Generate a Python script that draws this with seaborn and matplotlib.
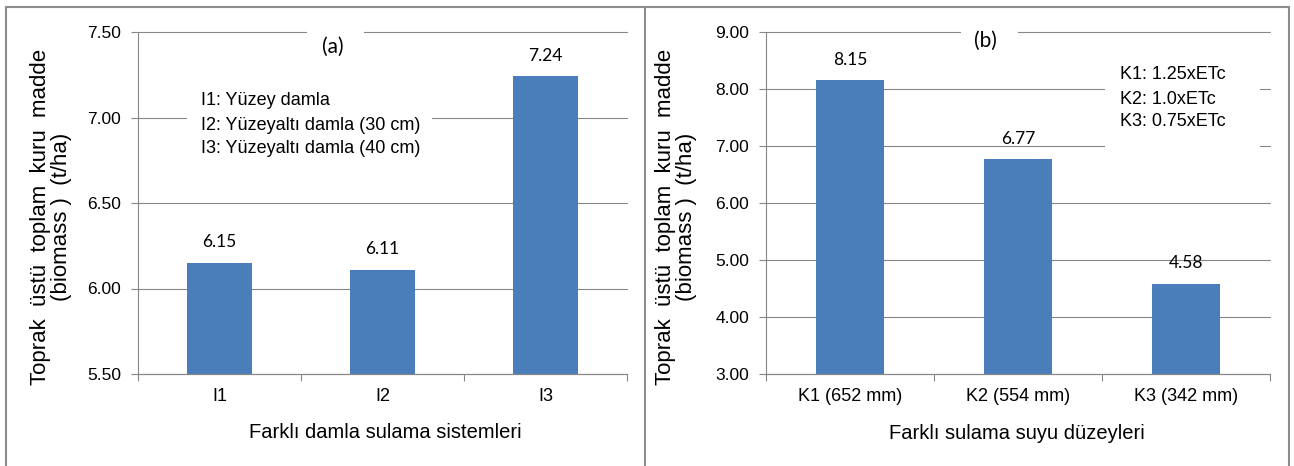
import matplotlib
matplotlib.use("Agg")
import matplotlib.pyplot as plt
from matplotlib.lines import Line2D
from matplotlib.patches import Rectangle
import seaborn as sns
import pandas as pd

# Panel (a): drip irrigation systems
systems = ["I1", "I2", "I3"]
biomass_systems = [6.15, 6.11, 7.24]
system_notes = ["I1: Yüzey damla", "I2: Yüzeyaltı damla (30 cm)", "I3: Yüzeyaltı damla (40 cm)"]
yticks_a = [5.50, 6.00, 6.50, 7.00, 7.50]

# Panel (b): irrigation water levels
levels = ["K1 (652 mm)", "K2 (554 mm)", "K3 (342 mm)"]
biomass_levels = [8.15, 6.77, 4.58]
level_notes = ["K1: 1.25xETc", "K2: 1.0xETc", "K3: 0.75xETc"]
yticks_b = [3.00, 4.00, 5.00, 6.00, 7.00, 8.00, 9.00]

ylabel = "Toprak  üstü  toplam  kuru  madde\n(biomass )  (t/ha)"
xlabel_a = "Farklı damla sulama sistemleri"
xlabel_b = "Farklı sulama suyu düzeyleri"

BAR = "#4a7ebb"
GRAY = "#878787"
FRAME = "#8c8c8c"

sns.set_theme(style="white")
plt.rcParams["font.family"] = ["Liberation Sans", "DejaVu Sans"]
plt.rcParams["text.color"] = "black"
plt.rcParams["axes.labelcolor"] = "black"
plt.rcParams["xtick.color"] = "black"
plt.rcParams["ytick.color"] = "black"

W, H = 1294, 466
fig = plt.figure(figsize=(W / 100, H / 100), dpi=100)
fig.patch.set_facecolor("white")


def draw_panel(rect, cats, vals, yticks, xlabel, tag, tag_pos, tag_box,
               notes, note_x, note_ys, note_box, xlabel_pos):
    ax = fig.add_axes(rect)
    df = pd.DataFrame({"cat": cats, "val": vals})
    sns.barplot(data=df, x="cat", y="val", ax=ax, color=BAR, width=0.4,
                saturation=1, edgecolor="none")
    ax.set_xlim(-0.5, len(cats) - 0.5)
    ax.set_ylim(yticks[0], yticks[-1])
    ax.set_yticks(yticks)
    ax.set_yticklabels([f"{t:.2f}" for t in yticks])
    ax.set_xticks([i - 0.5 for i in range(len(cats) + 1)], minor=True)

    ax.tick_params(axis="x", which="major", bottom=True, length=0, pad=10, labelsize=13)
    ax.tick_params(axis="x", which="minor", bottom=True, length=5, width=0.8,
                   color=GRAY, direction="out")
    ax.tick_params(axis="y", which="major", left=True, length=5, width=0.8,
                   color=GRAY, direction="out", pad=7, labelsize=12.5)

    for side in ("top", "right"):
        ax.spines[side].set_visible(False)
    for side in ("left", "bottom"):
        ax.spines[side].set_color(GRAY)
        ax.spines[side].set_linewidth(0.8)

    ax.set_axisbelow(True)
    ax.yaxis.grid(True, color=GRAY, linewidth=0.8)
    ax.xaxis.grid(False)
    for gl in ax.get_ygridlines():
        gl.set_clip_on(False)

    ax.bar_label(ax.containers[0], labels=[f"{v:.2f}" for v in vals],
                 padding=9, fontsize=12.5, family=["Lato", "DejaVu Sans"])

    # white boxes behind the panel tag and the notes
    for (x0, x1, y0, y1) in (tag_box, note_box):
        ax.add_patch(Rectangle((x0, y0), x1 - x0, y1 - y0, transform=ax.transAxes,
                               facecolor="white", edgecolor="none", zorder=0.8,
                               clip_on=False))
    ax.text(tag_pos[0], tag_pos[1], tag, transform=ax.transAxes, ha="center",
            va="center", fontsize=15, family=["Lato", "DejaVu Sans"], zorder=3)
    for note, y in zip(notes, note_ys):
        ax.text(note_x, y, note, transform=ax.transAxes, ha="left", va="center",
                fontsize=13, zorder=3)

    ax.set_ylabel(ylabel, fontsize=16, linespacing=1.0, va="center", ha="center")
    ax.yaxis.set_label_coords(-0.178, 0.46)
    ax.set_xlabel(xlabel, fontsize=14.5, va="center")
    ax.xaxis.set_label_coords(*xlabel_pos)
    return ax


draw_panel([138 / W, 1 - 374 / H, 489 / W, 342 / H], systems, biomass_systems, yticks_a,
           xlabel_a, "(a)", (0.398, 0.956), (0.346, 0.463, 0.90, 1.04),
           system_notes, 0.129, [0.801, 0.728, 0.658], (0.10, 0.602, 0.62, 0.845),
           (0.505, -0.17))

draw_panel([766 / W, 1 - 374 / H, 504 / W, 342 / H], levels, biomass_levels, yticks_b,
           xlabel_b, "(b)", (0.435, 0.975), (0.387, 0.50, 0.915, 1.04),
           level_notes, 0.702, [0.877, 0.804, 0.737], (0.673, 0.98, 0.64, 0.93),
           (0.498, -0.173))

# outer frame and divider between the two panels
def fig_line(xs, ys):
    fig.add_artist(Line2D([x / W for x in xs], [1 - y / H for y in ys],
                          color=FRAME, linewidth=1.5, transform=fig.transFigure))

fig_line([6, 1289], [7, 7])
fig_line([6, 6], [7, H])
fig_line([645, 645], [7, H])
fig_line([1289, 1289], [7, H])

fig.savefig("out.png", dpi=100, facecolor="white")
